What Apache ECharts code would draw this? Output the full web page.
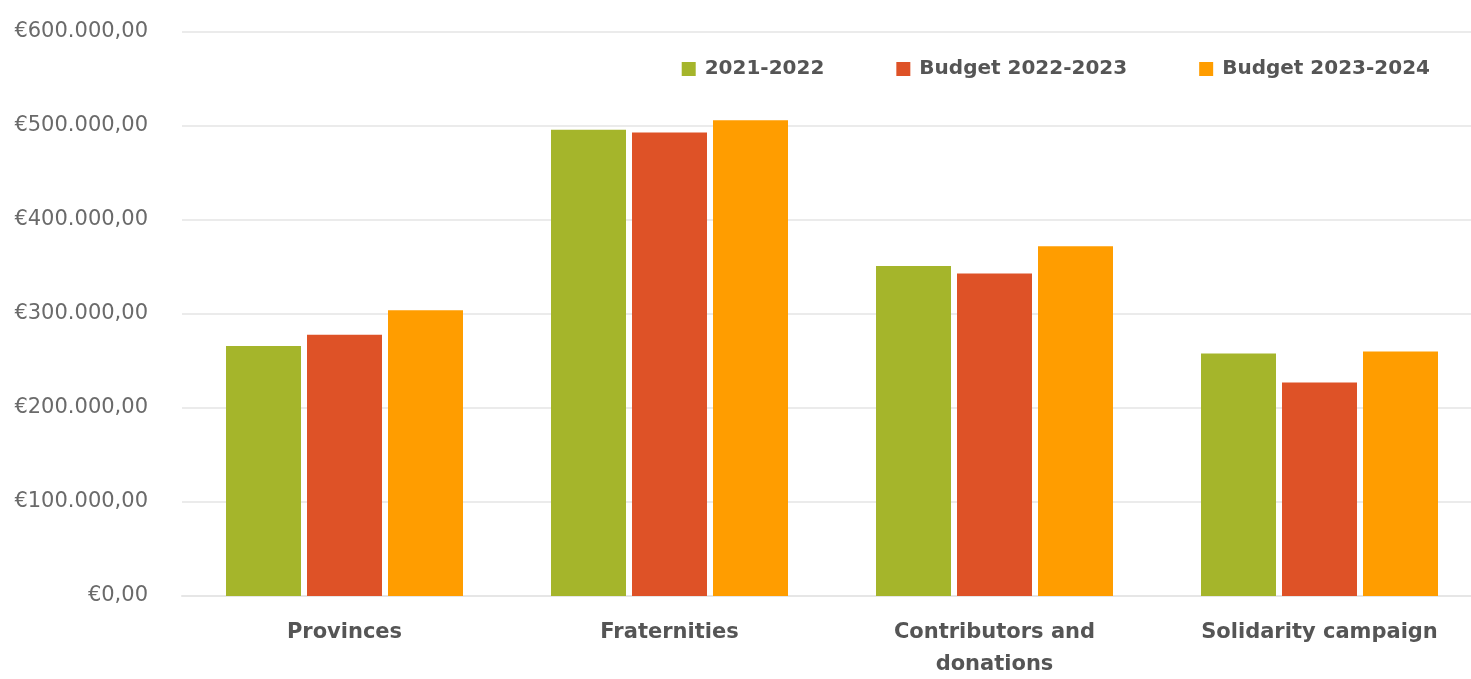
<!DOCTYPE html>
<html>
<head>
<meta charset="utf-8">
<script src="https://cdn.jsdelivr.net/npm/echarts@6/dist/echarts.min.js"></script>
<style>
html,body{margin:0;padding:0;background:#fff;}
#chart{width:1471px;height:679px;}
</style>
</head>
<body>
<div id="chart"></div>
<script>
const categories = ['Provinces', 'Fraternities', 'Contributors and\ndonations', 'Solidarity campaign'];
const seriesNames = ['2021-2022', 'Budget 2022-2023', 'Budget 2023-2024'];
const values2021 = [266000, 496000, 351000, 258000];
const budget2022 = [278000, 493000, 343000, 227000];
const budget2023 = [304000, 506000, 372000, 260000];
const colors = ['#A5B52B', '#DE5227', '#FF9D00'];

function euro(v) {
  const s = String(Math.round(v)).replace(/\B(?=(\d{3})+(?!\d))/g, '.');
  return '€' + s + ',00';
}

const chart = echarts.init(document.getElementById('chart'));
const font = '"DejaVu Sans", sans-serif';
const data = [values2021, budget2022, budget2023];
chart.setOption({
  animation: false,
  backgroundColor: '#ffffff',
  legend: {
    right: 36,
    top: 54,
    itemWidth: 14,
    itemHeight: 14,
    itemGap: 72,
    icon: 'rect',
    textStyle: { fontFamily: font, fontWeight: 'bold', fontSize: 20, color: '#555555', padding: [0, 0, 0, 4] },
    data: seriesNames
  },
  grid: { left: 182, top: 32, width: 1300, height: 564, containLabel: false, outerBoundsMode: 'none' },
  xAxis: {
    type: 'category',
    data: categories,
    axisLine: { show: true, lineStyle: { color: '#e6e6e6', width: 2 } },
    axisTick: { show: false },
    axisLabel: {
      fontFamily: font, fontWeight: 'bold', fontSize: 21, color: '#555555',
      margin: 21, lineHeight: 32, interval: 0
    }
  },
  yAxis: {
    type: 'value',
    min: 0, max: 600000, interval: 100000,
    axisLine: { show: false },
    axisTick: { show: false },
    splitLine: { lineStyle: { color: '#ebebeb', width: 2 } },
    axisLabel: { fontFamily: font, fontSize: 21, color: '#6a6a6a', margin: 34, formatter: euro }
  },
  series: seriesNames.map((n, i) => ({
    name: n,
    type: 'bar',
    data: data[i],
    barWidth: 75,
    barGap: '8%',
    itemStyle: { color: colors[i] }
  }))
});
</script>
</body>
</html>
